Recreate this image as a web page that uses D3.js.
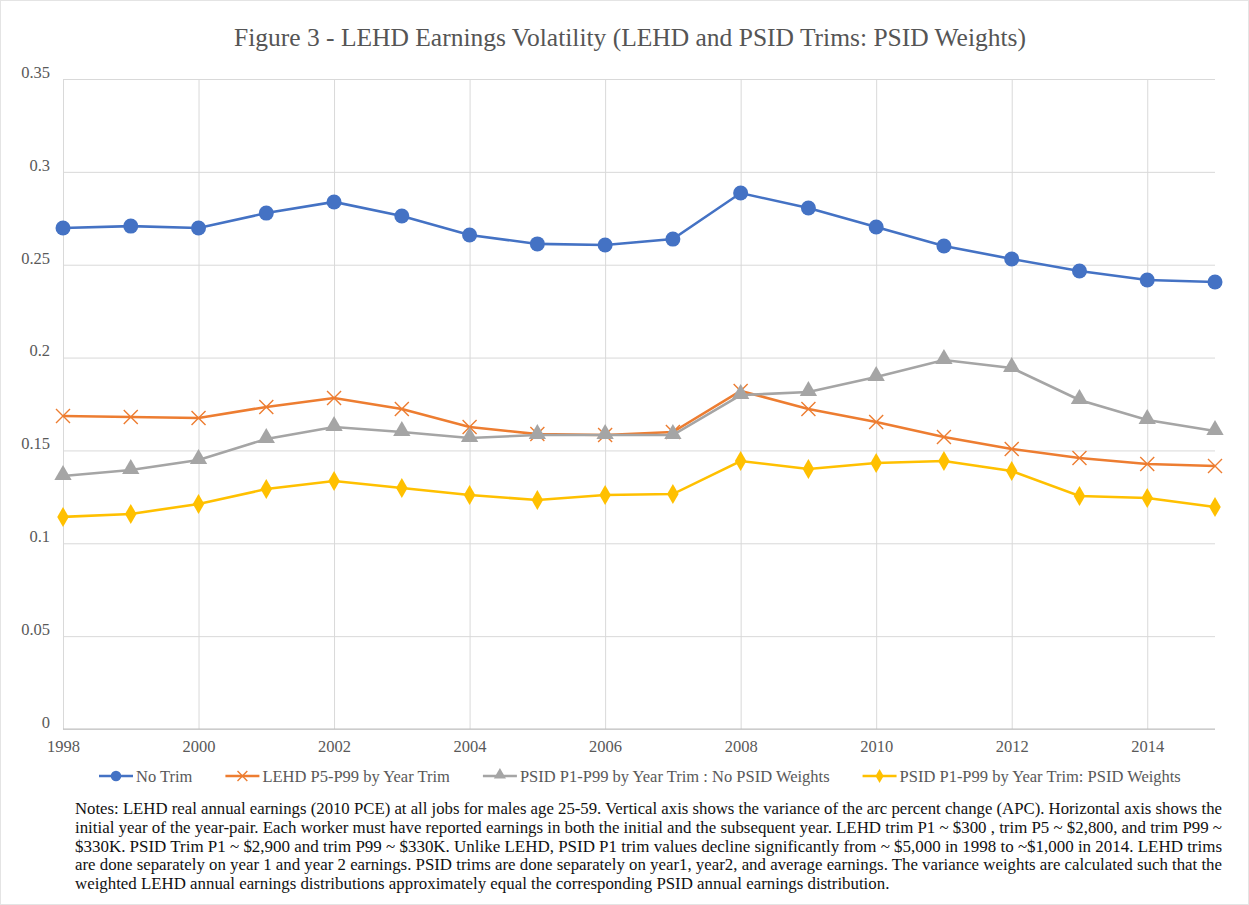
<!DOCTYPE html>
<html>
<head>
<meta charset="utf-8">
<script src="https://cdn.jsdelivr.net/npm/d3@7"></script>
<style>
  body { margin: 0; background: #fff; }
  text { font-family: "Liberation Serif", "Times New Roman", serif; }
</style>
</head>
<body>
<div id="chart"></div>
<script>
var years = [1998, 1999, 2000, 2001, 2002, 2003, 2004, 2005, 2006, 2007, 2008, 2009, 2010, 2011, 2012, 2013, 2014, 2015];
var noTrim = [0.2698, 0.2708, 0.2698, 0.2778, 0.2838, 0.2762, 0.2660, 0.2612, 0.2606, 0.2638, 0.2886, 0.2805, 0.2703, 0.2601, 0.2531, 0.2466, 0.2418, 0.2407];
var lehdTrim = [0.1685, 0.1680, 0.1675, 0.1734, 0.1782, 0.1723, 0.1626, 0.1588, 0.1583, 0.1599, 0.1820, 0.1723, 0.1653, 0.1572, 0.1508, 0.1459, 0.1427, 0.1416];
var psidNoWeights = [0.1362, 0.1395, 0.1448, 0.1562, 0.1626, 0.1599, 0.1567, 0.1583, 0.1583, 0.1583, 0.1798, 0.1815, 0.1895, 0.1987, 0.1944, 0.1772, 0.1664, 0.1605];
var psidWeights = [0.1142, 0.1158, 0.1212, 0.1292, 0.1335, 0.1298, 0.1260, 0.1233, 0.1260, 0.1265, 0.1443, 0.1400, 0.1432, 0.1443, 0.1389, 0.1255, 0.1244, 0.1195];
var seriesNames = ["No Trim", "LEHD P5-P99 by Year Trim", "PSID P1-P99 by Year Trim : No PSID Weights", "PSID P1-P99 by Year Trim: PSID Weights"];
var yTicks = [0, 0.05, 0.1, 0.15, 0.2, 0.25, 0.3, 0.35];
var xTicks = [1998, 2000, 2002, 2004, 2006, 2008, 2010, 2012, 2014];
var notes = [
  "Notes: LEHD real annual earnings (2010 PCE) at all jobs for males age 25-59. Vertical axis shows the variance of the arc percent change (APC). Horizontal axis shows the",
  "initial year of the year-pair. Each worker must have reported earnings in both the initial and the subsequent year. LEHD trim P1 ~ $300 , trim P5 ~ $2,800, and trim P99 ~",
  "$330K. PSID Trim P1 ~ $2,900 and trim P99 ~ $330K. Unlike LEHD, PSID P1 trim values decline significantly from ~ $5,000 in 1998 to ~$1,000 in 2014.  LEHD trims",
  "are done separately on year 1 and year 2 earnings. PSID trims are done separately on year1, year2, and average earnings. The variance weights are calculated such that the",
  "weighted LEHD annual earnings distributions approximately equal the corresponding PSID annual earnings distribution."
];

var W = 1249, H = 905;
var margin = {top: 79, left: 63, right: 34, bottom: 176};
var width = W - margin.left - margin.right,
    height = H - margin.top - margin.bottom;

var svg = d3.select("#chart").append("svg")
  .attr("width", W)
  .attr("height", H);

svg.append("rect")
  .attr("x", 0.5).attr("y", 0.5)
  .attr("width", W - 1).attr("height", H - 1)
  .attr("fill", "#fff")
  .attr("stroke", "#e4e4e4");

svg.append("text")
  .attr("x", 630)
  .attr("y", 46)
  .attr("text-anchor", "middle")
  .attr("font-size", "25.5px")
  .attr("fill", "#555")
  .text("Figure 3 - LEHD Earnings Volatility (LEHD and PSID Trims: PSID Weights)");

var x = d3.scaleLinear().domain([1998, 2015]).range([0, width]);
var y = d3.scaleLinear().domain([0, 0.35]).range([height, 0]);

var g = svg.append("g")
  .attr("transform", "translate(" + margin.left + "," + margin.top + ")");

// gridlines
var yAxis = d3.axisLeft(y).tickValues(yTicks).tickSize(-width).tickPadding(10)
  .tickFormat(function(d) { return String(+d.toFixed(2)); });
g.append("g").attr("class", "y axis").call(yAxis)
  .call(function(s) {
    s.select(".domain").remove();
    s.selectAll("line").attr("stroke", "#d9d9d9");
    s.selectAll("text").attr("font-size", "16.5px").attr("fill", "#595959").attr("x", -13).attr("dy", "-0.1em");
  });

var xAxis = d3.axisBottom(x).tickValues(xTicks).tickSize(-height).tickPadding(11).tickFormat(d3.format("d"));
g.append("g").attr("class", "x axis")
  .attr("transform", "translate(0," + height + ")")
  .call(xAxis)
  .call(function(s) {
    s.select(".domain").remove();
    s.selectAll("line").attr("stroke", "#d9d9d9");
    s.selectAll("text").attr("font-size", "16.5px").attr("fill", "#595959");
  });

g.append("line")
  .attr("x1", 0).attr("x2", width)
  .attr("y1", height).attr("y2", height)
  .attr("stroke", "#bfbfbf");

var series = [
  {name: seriesNames[0], values: noTrim, color: "#4472C4", marker: "circle"},
  {name: seriesNames[1], values: lehdTrim, color: "#ED7D31", marker: "x"},
  {name: seriesNames[2], values: psidNoWeights, color: "#A5A5A5", marker: "triangle"},
  {name: seriesNames[3], values: psidWeights, color: "#FFC000", marker: "diamond"}
];

var line = d3.line()
  .x(function(d, i) { return x(years[i]); })
  .y(function(d) { return y(d); });

function drawMarker(sel, s, cx, cy, scale) {
  scale = scale || 1;
  if (s.marker === "circle") {
    sel.append("circle").attr("cx", cx).attr("cy", cy).attr("r", 7.5 * scale).attr("fill", s.color);
  } else if (s.marker === "x") {
    var r = 7 * scale;
    sel.append("path")
      .attr("d", "M" + (cx - r) + "," + (cy - r) + "L" + (cx + r) + "," + (cy + r) + "M" + (cx - r) + "," + (cy + r) + "L" + (cx + r) + "," + (cy - r))
      .attr("stroke", s.color).attr("stroke-width", 1.4).attr("fill", "none");
  } else if (s.marker === "triangle") {
    sel.append("path")
      .attr("d", d3.symbol().type(d3.symbolTriangle).size(130 * scale * scale)())
      .attr("transform", "translate(" + cx + "," + (cy - 1) + ")")
      .attr("fill", s.color);
  } else {
    sel.append("path")
      .attr("d", d3.symbol().type(d3.symbolDiamond).size(115 * scale * scale)())
      .attr("transform", "translate(" + cx + "," + cy + ")")
      .attr("fill", s.color);
  }
}

series.forEach(function(s) {
  g.append("path")
    .datum(s.values)
    .attr("d", line)
    .attr("fill", "none")
    .attr("stroke", s.color)
    .attr("stroke-width", 2.6);
  var mg = g.append("g");
  s.values.forEach(function(v, i) {
    drawMarker(mg, s, x(years[i]), y(v));
  });
});

// legend: each entry follows the previous one's text
var legend = svg.append("g").attr("transform", "translate(0,776)");
var lx = 99;
series.forEach(function(s, i) {
  var lg = legend.append("g");
  lg.append("line")
    .attr("x1", lx).attr("x2", lx + 34)
    .attr("y1", 0).attr("y2", 0)
    .attr("stroke", s.color).attr("stroke-width", 2.6);
  drawMarker(lg, s, lx + 17, 0, 0.7);
  var t = lg.append("text")
    .attr("x", lx + 37)
    .attr("y", 5.5)
    .attr("font-size", "16.5px")
    .attr("fill", "#595959")
    .text(s.name);
  lx = lx + 37 + t.node().getComputedTextLength() + 33;
});

// notes, justified like the original
var notesG = svg.append("g");
var noteNodes = notes.map(function(t, i) {
  return notesG.append("text")
    .attr("x", 75)
    .attr("y", 814 + i * 18.8)
    .attr("font-size", "16px")
    .attr("fill", "#111")
    .text(t);
});
var ratio = 0;
noteNodes.slice(0, 4).forEach(function(n) { ratio += 1147 / n.node().getComputedTextLength(); });
ratio = ratio / 4;
noteNodes.forEach(function(n, i) {
  var len = i < 4 ? 1147 : n.node().getComputedTextLength() * ratio;
  n.attr("textLength", len).attr("lengthAdjust", "spacingAndGlyphs");
});
</script>
</body>
</html>
